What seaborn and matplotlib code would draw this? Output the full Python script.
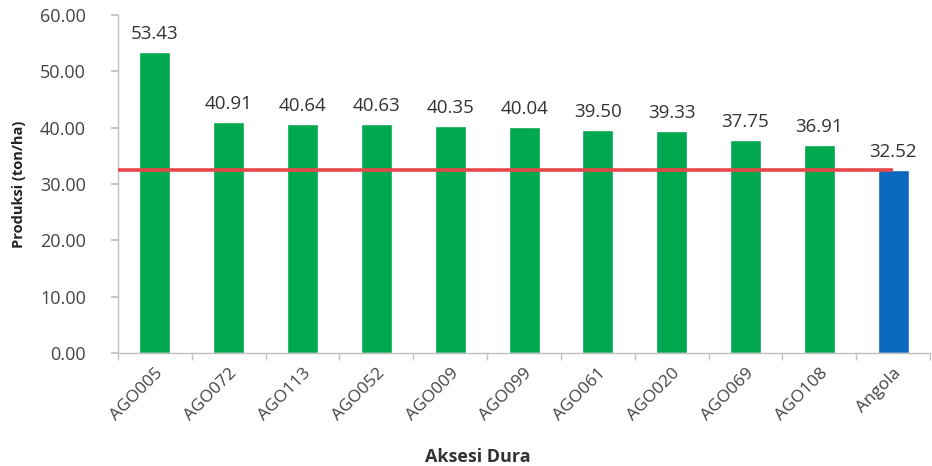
import matplotlib
matplotlib.use("Agg")
import matplotlib.pyplot as plt
import seaborn as sns
import pandas as pd
import numpy as np

accessions = ["AGO005", "AGO072", "AGO113", "AGO052", "AGO009", "AGO099",
              "AGO061", "AGO020", "AGO069", "AGO108", "Angola"]
production = [53.43, 40.91, 40.64, 40.63, 40.35, 40.04, 39.50, 39.33, 37.75, 36.91, 32.52]
bar_colors = ["#00a84f"] * 10 + ["#0a68bf"]
reference_level = 32.52
y_ticks = [0, 10, 20, 30, 40, 50, 60]

sns.set_theme(style="white")
plt.rcParams["font.family"] = ["Open Sans", "DejaVu Sans"]

df = pd.DataFrame({"Aksesi": accessions, "Produksi": production})

fig = plt.figure(figsize=(9.32, 4.66), dpi=100)
ax = fig.add_axes([0.1266, 0.2425, 0.8714, 0.7255])

sns.barplot(data=df, x="Aksesi", y="Produksi", hue="Aksesi", palette=bar_colors,
            legend=False, width=0.42, saturation=1, ax=ax)

# Reference line at the Angola level, running across to the Angola bar
ax.plot([-0.5, len(accessions) - 1], [reference_level, reference_level],
        color="#e8474a", lw=2.6, zorder=3, solid_capstyle="butt")

for i, v in enumerate(production):
    ax.text(i, v + 1.6, f"{v:.2f}", ha="center", va="bottom", fontsize=13.5,
            color="#333333")

ax.set_ylim(0, 60)
ax.set_xlim(-0.5, len(accessions) - 0.5)
ax.set_yticks(y_ticks)
ax.set_yticklabels([f"{t:.2f}" for t in y_ticks], fontsize=13, color="#444444")
ax.set_xticks(range(len(accessions)))
ax.set_xticklabels(accessions, rotation=45, ha="right", rotation_mode="anchor",
                   fontsize=12.5, color="#444444")
ax.tick_params(axis="x", length=0, pad=9)
ax.set_xticks(np.arange(-0.5, len(accessions), 1), minor=True)
ax.tick_params(axis="x", which="minor", length=5, color="#c0c0c0", direction="out", bottom=True)
ax.tick_params(axis="y", length=5, color="#c0c0c0", direction="out", left=True, pad=18)

for side in ["top", "right"]:
    ax.spines[side].set_visible(False)
for side in ["left", "bottom"]:
    ax.spines[side].set_color("#c0c0c0")
    ax.spines[side].set_linewidth(1)

ax.set_xlabel("Aksesi Dura", fontsize=13, fontweight="bold", color="#333333")
ax.xaxis.set_label_coords(0.443, -0.282)
ax.set_ylabel("Produksi (ton/ha)", fontsize=10.5, fontweight="bold", color="#222222")
ax.yaxis.set_label_coords(-0.113, 0.5)

fig.savefig("out.png", dpi=100)
